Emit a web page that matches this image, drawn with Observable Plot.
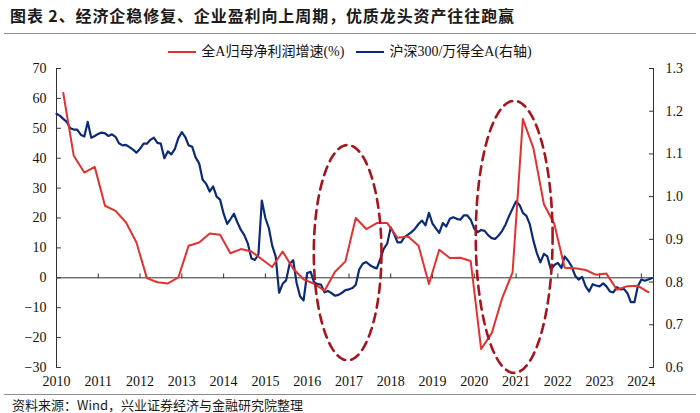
<!DOCTYPE html>
<html><head><meta charset="utf-8">
<script src="https://cdn.jsdelivr.net/npm/d3@7"></script>
<script src="https://cdn.jsdelivr.net/npm/@observablehq/plot@0.6"></script>
<style>
body{margin:0;width:700px;height:413px;background:#fff;position:relative;overflow:hidden;font-family:"Liberation Serif","Noto Sans CJK SC",serif;color:#111;}
#title{position:absolute;left:10px;top:3px;font-family:"Noto Sans CJK SC";font-weight:700;font-size:16px;letter-spacing:0.9px;color:#1a1a1a;white-space:nowrap;line-height:24px;}
.rule{position:absolute;left:4px;right:4px;height:0;border-top:1.5px solid #8c8c8c;}
#legend{position:absolute;top:43px;left:0;width:700px;display:flex;justify-content:center;align-items:center;font-size:14px;white-space:nowrap;font-family:"Liberation Serif","Noto Sans CJK SC";line-height:18px;}
.sw{display:inline-block;width:28px;height:0;border-top:2.5px solid;margin-right:5px;}
.item{display:flex;align-items:center;margin:0 6px;}
#chart{position:absolute;left:0;top:60px;}
#source{position:absolute;left:12px;top:398px;font-size:13px;line-height:14px;font-family:"Noto Sans CJK SC";white-space:nowrap;color:#1a1a1a;}
</style></head>
<body>
<div id="title">图表 2、经济企稳修复、企业盈利向上周期，优质龙头资产往往跑赢</div>
<div class="rule" style="top:33px"></div>
<div id="legend"></div>
<div id="chart"></div>
<div class="rule" style="top:394px"></div>
<div id="source">资料来源：Wind，兴业证券经济与金融研究院整理</div>
<script>
// ---- data ----
const seriesNames = ["全A归母净利润增速(%)", "沪深300/万得全A(右轴)"];
const seriesColors = ["#E1322F", "#0C2A7A"];

// quarterly profit growth (%), left axis
const profitQuarters = [
 "2010-03","2010-06","2010-09","2010-12","2011-03","2011-06","2011-09","2011-12",
 "2012-03","2012-06","2012-09","2012-12","2013-03","2013-06","2013-09","2013-12",
 "2014-03","2014-06","2014-09","2014-12","2015-03","2015-06","2015-09","2015-12",
 "2016-03","2016-06","2016-09","2016-12","2017-03","2017-06","2017-09","2017-12",
 "2018-03","2018-06","2018-09","2018-12","2019-03","2019-06","2019-09","2019-12",
 "2020-03","2020-06","2020-09","2020-12","2021-03","2021-06","2021-09","2021-12",
 "2022-03","2022-06","2022-09","2022-12","2023-03","2023-06","2023-09","2023-12",
 "2024-03"];
const profitGrowth = [
 61.8,40.8,35.2,37.1,24.1,22.4,18.5,11.8,
 -0.1,-1.5,-1.9,0.1,10.7,11.8,14.8,14.4,
 8.2,9.6,8.8,6.2,3.6,8.8,3.0,-0.5,
 -2.0,-4.3,2.0,5.5,20.0,16.3,18.3,18.3,
 13.4,13.8,10.7,-2.1,9.4,6.6,6.7,5.6,
 -23.8,-18.6,-6.8,1.8,53.1,43.4,24.6,18.0,
 3.4,3.2,2.6,1.0,1.4,-4.0,-2.8,-2.7,
 -4.8];

// monthly ratio CSI300 / Wind All A, right axis, from 2010-01
const ratioStartMonth = "2010-01";
const ratioValues = [
 1.194,1.189,1.182,1.175,1.160,1.157,1.157,1.145,1.141,1.175,1.138,1.142,
 1.147,1.150,1.148,1.142,1.146,1.140,1.125,1.120,1.121,1.116,1.110,1.103,
 1.112,1.124,1.124,1.133,1.138,1.126,1.124,1.090,1.106,1.099,1.112,1.137,
 1.151,1.139,1.120,1.117,1.092,1.078,1.040,1.030,1.012,1.024,1.000,0.993,
 0.960,0.936,0.947,0.960,0.940,0.922,0.910,0.890,0.855,0.852,0.864,0.991,
 0.950,0.926,0.886,0.860,0.775,0.796,0.804,0.843,0.851,0.798,0.766,0.757,
 0.821,0.824,0.800,0.795,0.794,0.776,0.779,0.774,0.768,0.770,0.775,0.781,
 0.783,0.786,0.794,0.830,0.843,0.847,0.840,0.835,0.832,0.854,0.878,0.890,
 0.928,0.912,0.893,0.893,0.905,0.911,0.917,0.925,0.936,0.944,0.933,0.962,
 0.937,0.925,0.915,0.938,0.930,0.948,0.952,0.948,0.946,0.956,0.956,0.946,
 0.925,0.917,0.922,0.920,0.910,0.903,0.901,0.909,0.920,0.935,0.955,0.972,
 0.989,0.980,0.962,0.955,0.935,0.897,0.868,0.846,0.866,0.860,0.829,0.840,
 0.845,0.833,0.860,0.850,0.837,0.815,0.806,0.812,0.790,0.778,0.795,0.792,
 0.790,0.797,0.790,0.778,0.776,0.788,0.783,0.784,0.774,0.753,0.753,0.790,
 0.806,0.803,0.806,0.809];

const leftTicks = [-30,-20,-10,0,10,20,30,40,50,60,70];
const rightTicks = [0.6,0.7,0.8,0.9,1.0,1.1,1.2,1.3];
const yearLabels = [2010,2011,2012,2013,2014,2015,2016,2017,2018,2019,2020,2021,2022,2023,2024];
const xDomain = ["2010-01-01","2024-04-16"];

// highlighted periods (dashed ellipses): center date, center value, half-width (years), half-height (pct pts)
const highlightCenters = ["2016-12-20","2020-12-15"];
const highlightCenterValues = [8.4, 13.7];
const highlightHalfWidths = [0.81, 0.92];
const highlightHalfHeights = [36, 45.5];

// ---- build ----
const parseDay = s => new Date(s + (s.length === 7 ? "-01" : "") + "T00:00:00Z");
const leftMin = -30, leftMax = 70, rightMin = 0.6, rightMax = 1.3;
const toLeft = v => (v - rightMin) / (rightMax - rightMin) * (leftMax - leftMin) + leftMin;
const toRight = y => (y - leftMin) / (leftMax - leftMin) * (rightMax - rightMin) + rightMin;

const profit = profitQuarters.map((q, i) => ({date: parseDay(q), value: profitGrowth[i]}));
const start = parseDay(ratioStartMonth);
const ratio = ratioValues.map((v, i) => ({date: new Date(Date.UTC(start.getUTCFullYear(), start.getUTCMonth() + i, 1)), value: v}));
const years = yearLabels.map(y => new Date(Date.UTC(y, 0, 1)));
const x0 = parseDay(xDomain[0]), x1 = parseDay(xDomain[1]);

const msYear = 365.25 * 864e5;
const ellipses = [];
highlightCenters.forEach((c, k) => {
  const cd = parseDay(c).getTime();
  for (let j = 0; j <= 120; j++) {
    const t = j / 120 * 2 * Math.PI;
    ellipses.push({k, date: new Date(cd + highlightHalfWidths[k] * Math.cos(t) * msYear),
      value: highlightCenterValues[k] + highlightHalfHeights[k] * Math.sin(t)});
  }
});

const tickShape = {draw(ctx, l) { ctx.moveTo(0, 0); ctx.lineTo(0, -l); }};
const axisColor = "#333";

const chart = Plot.plot({
  width: 700, height: 333,
  marginLeft: 56, marginRight: 47, marginTop: 8, marginBottom: 26,
  style: {fontFamily: "Liberation Serif, serif", fontSize: "14px", color: "#111", background: "transparent"},
  x: {type: "utc", domain: [x0, x1]},
  y: {domain: [leftMin, leftMax]},
  marks: [
    Plot.ruleY([0], {stroke: axisColor, strokeWidth: 1}),
    Plot.vector(years.slice(1), {x: d => d, y: () => 0, length: 4, rotate: 0, anchor: "start", shape: tickShape, stroke: axisColor, strokeWidth: 1}),
    Plot.ruleX([x0], {y1: leftMin, y2: leftMax, stroke: axisColor, strokeWidth: 1}),
    Plot.ruleX([x1], {y1: leftMin, y2: leftMax, stroke: axisColor, strokeWidth: 1}),
    Plot.vector(leftTicks, {x: () => x0, y: d => d, length: 4, rotate: 90, anchor: "start", shape: tickShape, stroke: axisColor, strokeWidth: 1}),
    Plot.vector(rightTicks, {x: () => x1, y: d => toLeft(d), length: 4, rotate: -90, anchor: "start", shape: tickShape, stroke: axisColor, strokeWidth: 1}),
    Plot.axisY({anchor: "left", ticks: leftTicks, tickSize: 0, tickPadding: 10, label: null}),
    Plot.axisY({anchor: "right", ticks: rightTicks.map(toLeft), tickFormat: d => toRight(d).toFixed(1), tickSize: 0, tickPadding: 12, label: null}),
    Plot.axisX({ticks: years, tickFormat: d => String(d.getUTCFullYear()), tickSize: 0, tickPadding: 9, label: null}),
    Plot.line(ratio, {x: "date", y: d => toLeft(d.value), stroke: seriesColors[1], strokeWidth: 2.2}),
    Plot.line(profit, {x: "date", y: "value", stroke: seriesColors[0], strokeWidth: 2}),
    Plot.line(ellipses, {x: "date", y: "value", z: "k", stroke: "#A8141E", strokeWidth: 2.6, strokeDasharray: "9,6", clip: false})
  ]
});
document.getElementById("chart").appendChild(chart);

const legend = document.getElementById("legend");
seriesNames.forEach((n, i) => {
  const it = document.createElement("div"); it.className = "item";
  const sw = document.createElement("span"); sw.className = "sw"; sw.style.borderColor = seriesColors[i];
  const tx = document.createElement("span"); tx.textContent = n;
  it.appendChild(sw); it.appendChild(tx); legend.appendChild(it);
});
</script>
</body></html>
